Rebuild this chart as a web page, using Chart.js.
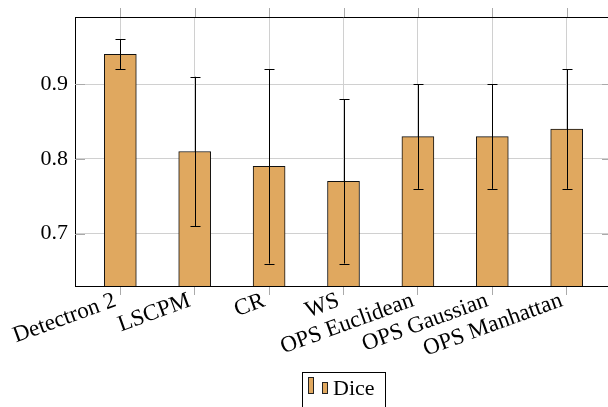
<!DOCTYPE html>
<html lang="en">
<head>
<meta charset="UTF-8">
<meta name="viewport" content="width=device-width, initial-scale=1.0">
<title>Dice</title>
<script src="https://cdn.jsdelivr.net/npm/chart.js"></script>
<style>
    html, body { margin: 0; padding: 0; overflow: hidden; background: #fff; }
    canvas { display: block; }
</style>
</head>
<body>
<canvas id="dice-chart" width="616" height="407"></canvas>
<script>
// data
const methods = ['Detectron 2', 'LSCPM', 'CR', 'WS', 'OPS Euclidean', 'OPS Gaussian', 'OPS Manhattan'];
const diceMean = [0.94, 0.81, 0.79, 0.77, 0.83, 0.83, 0.84];
const diceLow = [0.92, 0.71, 0.66, 0.66, 0.76, 0.76, 0.76];
const diceHigh = [0.96, 0.91, 0.92, 0.88, 0.90, 0.90, 0.92];
const yTicks = [0.7, 0.8, 0.9];

const barColor = '#e0a85f';
const serif = "'Liberation Serif', 'DejaVu Serif', serif";

// error bars drawn through the scales
const errorBars = {
    id: 'errorBars',
    afterDatasetsDraw(chart) {
        const ctx = chart.ctx;
        const xs = chart.scales.x, ys = chart.scales.y;
        ctx.save();
        ctx.strokeStyle = '#000';
        ctx.lineWidth = 1;
        diceMean.forEach((v, i) => {
            const x = Math.round(xs.getPixelForValue(i)) + 0.5;
            const lo = ys.getPixelForValue(diceLow[i]);
            const hi = ys.getPixelForValue(diceHigh[i]);
            ctx.beginPath();
            ctx.moveTo(x, lo); ctx.lineTo(x, hi);
            ctx.moveTo(x - 5, Math.round(lo) + 0.5); ctx.lineTo(x + 5, Math.round(lo) + 0.5);
            ctx.moveTo(x - 5, Math.round(hi) + 0.5); ctx.lineTo(x + 5, Math.round(hi) + 0.5);
            ctx.stroke();
        });
        ctx.restore();
    }
};

// frame extras: top border, top ticks, inner y ticks, legend box
const frame = {
    id: 'frame',
    afterDraw(chart) {
        const ctx = chart.ctx;
        const a = chart.chartArea;
        const xs = chart.scales.x, ys = chart.scales.y;
        ctx.save();
        ctx.strokeStyle = '#aaa';
        ctx.lineWidth = 1;
        ctx.beginPath();
        methods.forEach((m, i) => {
            const x = Math.round(xs.getPixelForValue(i)) + 0.5;
            ctx.moveTo(x, a.top - 9); ctx.lineTo(x, a.top);
        });
        yTicks.forEach(v => {
            const y = Math.round(ys.getPixelForValue(v)) + 0.5;
            ctx.moveTo(a.left, y); ctx.lineTo(a.left + 10, y);
            ctx.moveTo(a.right - 10, y); ctx.lineTo(a.right, y);
        });
        ctx.stroke();

        ctx.strokeStyle = '#000';
        ctx.beginPath();
        ctx.moveTo(a.left, Math.round(a.top) + 0.5);
        ctx.lineTo(a.right, Math.round(a.top) + 0.5);
        ctx.stroke();

        // legend
        const ds = chart.data.datasets[0];
        ctx.strokeStyle = '#000';
        ctx.strokeRect(302.5, 372.5, 83, 60);
        ctx.fillStyle = ds.backgroundColor;
        ctx.strokeStyle = '#222';
        ctx.fillRect(308, 377, 5, 17);
        ctx.strokeRect(308.5, 377.5, 5, 16);
        ctx.fillRect(322, 382, 5, 12);
        ctx.strokeRect(322.5, 382.5, 5, 11);
        ctx.fillStyle = '#000';
        ctx.font = '22px ' + serif;
        ctx.textBaseline = 'alphabetic';
        ctx.fillText(ds.label, 333, 395);
        ctx.restore();
    }
};

new Chart(document.getElementById('dice-chart'), {
    type: 'bar',
    data: {
        datasets: [{
            label: 'Dice',
            data: diceMean.map((v, i) => ({ x: i, y: v })),
            backgroundColor: barColor,
            borderColor: '#111',
            borderWidth: 1,
            borderSkipped: false,
            barThickness: 32
        }]
    },
    options: {
        responsive: false,
        animation: false,
        layout: { padding: { top: 17, right: 4, left: 0, bottom: 0 } },
        plugins: {
            legend: { display: false },
            tooltip: { enabled: false }
        },
        scales: {
            x: {
                type: 'linear',
                offset: false,
                min: -0.609,
                max: 6.609,
                afterBuildTicks: s => { s.ticks = methods.map((m, i) => ({ value: i })); },
                afterFit: s => { s.height = 121; s.paddingLeft = 0; s.paddingRight = 0; },
                ticks: {
                    callback: v => methods[v],
                    autoSkip: false,
                    maxRotation: 20,
                    minRotation: 20,
                    padding: -8,
                    labelOffset: -5,
                    color: '#000',
                    font: { family: serif, size: 23 }
                },
                grid: { offset: false, color: '#d0d0d0', tickColor: '#aaa', tickLength: 9 },
                border: { color: '#000' }
            },
            y: {
                min: 0.63,
                max: 0.99,
                afterBuildTicks: s => { s.ticks = yTicks.map(v => ({ value: v })); },
                afterFit: s => { s.width = 75; s.paddingTop = 0; s.paddingBottom = 0; },
                ticks: {
                    callback: v => v.toFixed(1),
                    padding: 7,
                    color: '#000',
                    font: { family: serif, size: 22 }
                },
                grid: { color: '#d0d0d0', drawTicks: false },
                border: { color: '#000' }
            }
        }
    },
    plugins: [errorBars, frame]
});
</script>
</body>
</html>
